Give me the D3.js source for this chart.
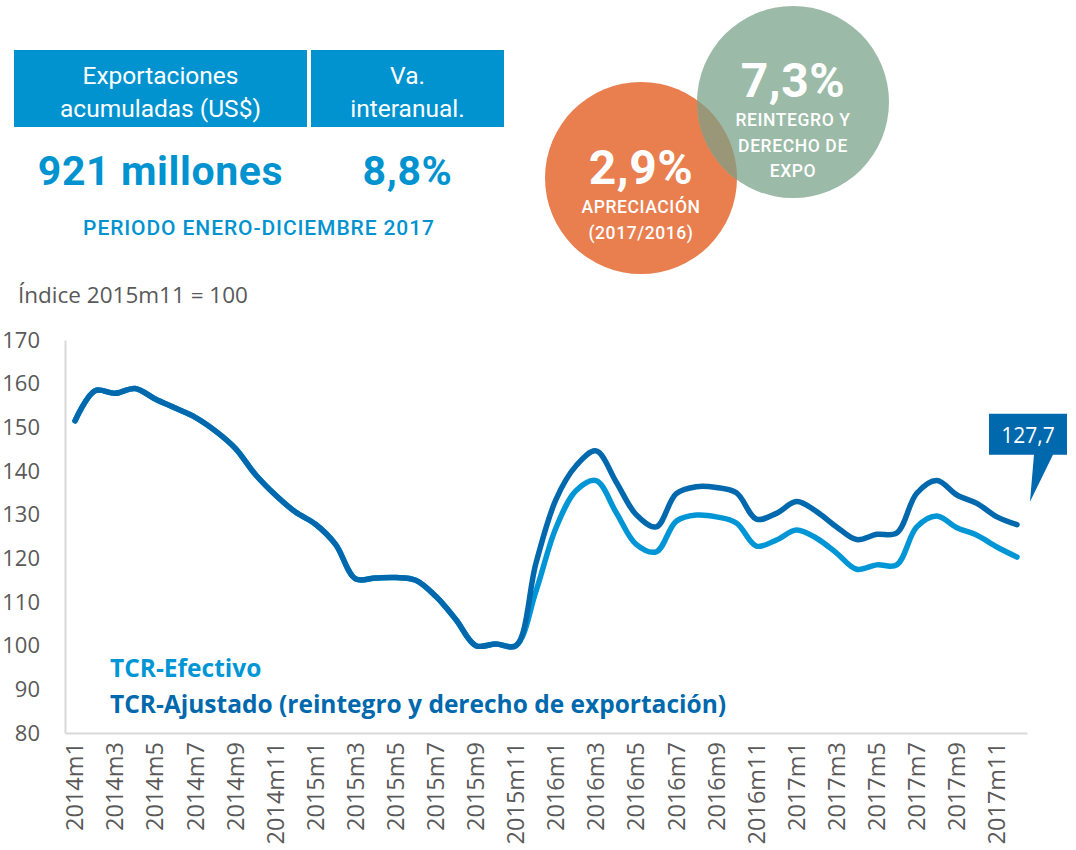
<!DOCTYPE html>
<html>
<head>
<meta charset="utf-8">
<script src="https://cdn.jsdelivr.net/npm/d3@7"></script>
<style>
  body { margin: 0; background: #fff; }
  svg { display: block; }
</style>
</head>
<body>
<div id="chart"></div>
<script>
// months of the series (2014m1 .. 2017m12)
const months = [
  "2014m1","2014m2","2014m3","2014m4","2014m5","2014m6","2014m7","2014m8","2014m9","2014m10","2014m11","2014m12",
  "2015m1","2015m2","2015m3","2015m4","2015m5","2015m6","2015m7","2015m8","2015m9","2015m10","2015m11","2015m12",
  "2016m1","2016m2","2016m3","2016m4","2016m5","2016m6","2016m7","2016m8","2016m9","2016m10","2016m11","2016m12",
  "2017m1","2017m2","2017m3","2017m4","2017m5","2017m6","2017m7","2017m8","2017m9","2017m10","2017m11","2017m12"
];

const tcrAjustado = [
  151.5, 158.4, 157.8, 158.9, 156.5, 154.4, 152.3, 149.2, 145.2, 139.2, 134.5, 130.6,
  127.8, 123.2, 115.3, 115.5, 115.6, 115.0, 111.3, 106.0, 100.0, 100.4, 100.0, 118.9,
  133.5, 141.2, 144.6, 137.5, 130.0, 127.2, 134.8, 136.4, 136.2, 135.0, 129.0, 130.3,
  133.0, 130.7, 127.2, 124.3, 125.5, 125.8, 134.9, 137.8, 134.5, 132.6, 129.5, 127.7
];

const tcrEfectivo = [
  151.5, 158.4, 157.8, 158.9, 156.5, 154.4, 152.3, 149.2, 145.2, 139.2, 134.5, 130.6,
  127.8, 123.2, 115.3, 115.5, 115.6, 115.0, 111.3, 106.0, 100.0, 100.4, 100.0, 112.5,
  127.0, 135.5, 137.8, 130.5, 123.2, 121.5, 128.5, 129.9, 129.5, 128.1, 122.8, 124.2,
  126.5, 124.6, 121.2, 117.5, 118.5, 118.5, 127.2, 129.7, 127.0, 125.3, 122.6, 120.3
];

const yTicks = [80, 90, 100, 110, 120, 130, 140, 150, 160, 170];
const xTicks = months.filter((m, i) => i % 2 === 0);

const seriesNames = ["TCR-Efectivo", "TCR-Ajustado (reintegro y derecho de exportación)"];
const lastLabel = "127,7";

const headers = [["Exportaciones", "acumuladas (US$)"], ["Va.", "interanual."]];
const headline = ["921 millones", "8,8%"];
const period = "PERIODO ENERO-DICIEMBRE 2017";
const bubbles = [
  { big: "2,9%", lines: ["APRECIACIÓN", "(2017/2016)"] },
  { big: "7,3%", lines: ["REINTEGRO Y", "DERECHO DE", "EXPO"] }
];

const width = 1076, height = 850;
const lightBlue = "#0096d6", darkBlue = "#0068ac", boxBlue = "#0093d0", grey = "#595959";

const svg = d3.select("#chart").append("svg")
  .attr("width", width)
  .attr("height", height);

// ---- header table ----
const boxes = [{ x: 14, w: 293 }, { x: 311, w: 193 }];
boxes.forEach((b, i) => {
  svg.append("rect")
    .attr("x", b.x).attr("y", 50).attr("width", b.w).attr("height", 77)
    .attr("fill", boxBlue);
  headers[i].forEach((t, j) => {
    svg.append("text")
      .attr("x", b.x + b.w / 2).attr("y", 84 + j * 33)
      .attr("text-anchor", "middle")
      .attr("font-family", "Roboto")
      .attr("font-size", 24.5)
      .attr("fill", "#fff")
      .text(t);
  });
  svg.append("text")
    .attr("x", b.x + b.w / 2).attr("y", 185)
    .attr("text-anchor", "middle")
    .attr("font-family", "Roboto")
    .attr("font-weight", 700)
    .attr("font-size", 41)
    .attr("letter-spacing", 0.6)
    .attr("fill", boxBlue)
    .text(headline[i]);
});
svg.append("text")
  .attr("x", 259).attr("y", 235)
  .attr("text-anchor", "middle")
  .attr("font-family", "Roboto")
  .attr("font-weight", 500)
  .attr("font-size", 21)
  .attr("letter-spacing", 0.9)
  .attr("fill", boxBlue)
  .text(period);

// ---- bubbles ----
const c1 = { cx: 641, cy: 178, r: 96 }, c2 = { cx: 793, cy: 102, r: 96 };
svg.append("circle").attr("cx", c1.cx).attr("cy", c1.cy).attr("r", c1.r).attr("fill", "#e97e4f");
svg.append("circle").attr("cx", c2.cx).attr("cy", c2.cy).attr("r", c2.r).attr("fill", "#9bbba8");
svg.append("clipPath").attr("id", "clipC1")
  .append("circle").attr("cx", c1.cx).attr("cy", c1.cy).attr("r", c1.r);
svg.append("circle").attr("cx", c2.cx).attr("cy", c2.cy).attr("r", c2.r)
  .attr("fill", "#9a9678").attr("clip-path", "url(#clipC1)");

function bubbleText(c, b, bigY, lineY0, lineStep) {
  svg.append("text")
    .attr("x", c.cx).attr("y", bigY)
    .attr("text-anchor", "middle")
    .attr("font-family", "Roboto").attr("font-weight", 700)
    .attr("font-size", 48).attr("letter-spacing", 0.5).attr("fill", "#fff")
    .text(b.big);
  b.lines.forEach((t, j) => {
    svg.append("text")
      .attr("x", c.cx).attr("y", lineY0 + j * lineStep)
      .attr("text-anchor", "middle")
      .attr("font-family", "Roboto").attr("font-weight", 500)
      .attr("font-size", 17.5).attr("letter-spacing", 0.6).attr("fill", "#fff")
      .text(t);
  });
}
bubbleText(c1, bubbles[0], 184, 213, 26);
bubbleText(c2, bubbles[1], 97, 126, 25.5);

// ---- line chart ----
svg.append("text")
  .attr("x", 18).attr("y", 303)
  .attr("font-family", "Open Sans")
  .attr("font-size", 22.5)
  .attr("fill", grey)
  .text("Índice 2015m11 = 100");

const x = d3.scaleBand().domain(months).range([65, 1027]);
const cx = m => x(m) + x.bandwidth() / 2;
const y = d3.scaleLinear().domain([80, 170]).range([733, 340]);

const yAxis = svg.append("g")
  .attr("transform", "translate(65,0)")
  .call(d3.axisLeft(y).tickValues(yTicks).tickSize(0).tickPadding(25));
yAxis.select(".domain").attr("stroke", "#d9d9d9").attr("stroke-width", 2);
yAxis.selectAll("text")
  .attr("font-family", "Open Sans").attr("font-size", 22).attr("fill", grey);

const xAxis = svg.append("g")
  .attr("transform", "translate(0,733)")
  .call(d3.axisBottom(x).tickValues(xTicks).tickSize(0));
xAxis.select(".domain").attr("stroke", "#d9d9d9").attr("stroke-width", 2);
xAxis.selectAll("text")
  .attr("font-family", "Open Sans").attr("font-size", 23.5).attr("fill", grey)
  .attr("transform", "rotate(-90)")
  .attr("text-anchor", "end")
  .attr("x", -9).attr("y", 0).attr("dy", "0.35em");

const line = d3.line()
  .x((d, i) => cx(months[i]))
  .y(d => y(d))
  .curve(d3.curveCatmullRom.alpha(0.5));

svg.append("path").datum(tcrEfectivo)
  .attr("d", line).attr("fill", "none")
  .attr("stroke", lightBlue).attr("stroke-width", 5.5)
  .attr("stroke-linecap", "round").attr("stroke-linejoin", "round");
svg.append("path").datum(tcrAjustado)
  .attr("d", line).attr("fill", "none")
  .attr("stroke", darkBlue).attr("stroke-width", 5.5)
  .attr("stroke-linecap", "round").attr("stroke-linejoin", "round");

// legend
[lightBlue, darkBlue].forEach((col, i) => {
  svg.append("text")
    .attr("x", 110).attr("y", 677 + i * 36)
    .attr("font-family", "Open Sans").attr("font-weight", 700)
    .attr("font-size", 24.5).attr("fill", col)
    .text(seriesNames[i]);
});

// callout for last value
const px = cx(months[months.length - 1]);
const py = y(tcrAjustado[tcrAjustado.length - 1]);
svg.append("path")
  .attr("d", `M${px - 28},${py - 111}H${px + 50}V${py - 70}H${px + 36}L${px + 13},${py - 23}L${px + 17},${py - 70}H${px - 28}Z`)
  .attr("fill", darkBlue);
svg.append("text")
  .attr("x", px + 11).attr("y", py - 82)
  .attr("text-anchor", "middle")
  .attr("font-family", "Open Sans").attr("font-size", 21)
  .attr("fill", "#fff")
  .text(lastLabel);
</script>
</body>
</html>
